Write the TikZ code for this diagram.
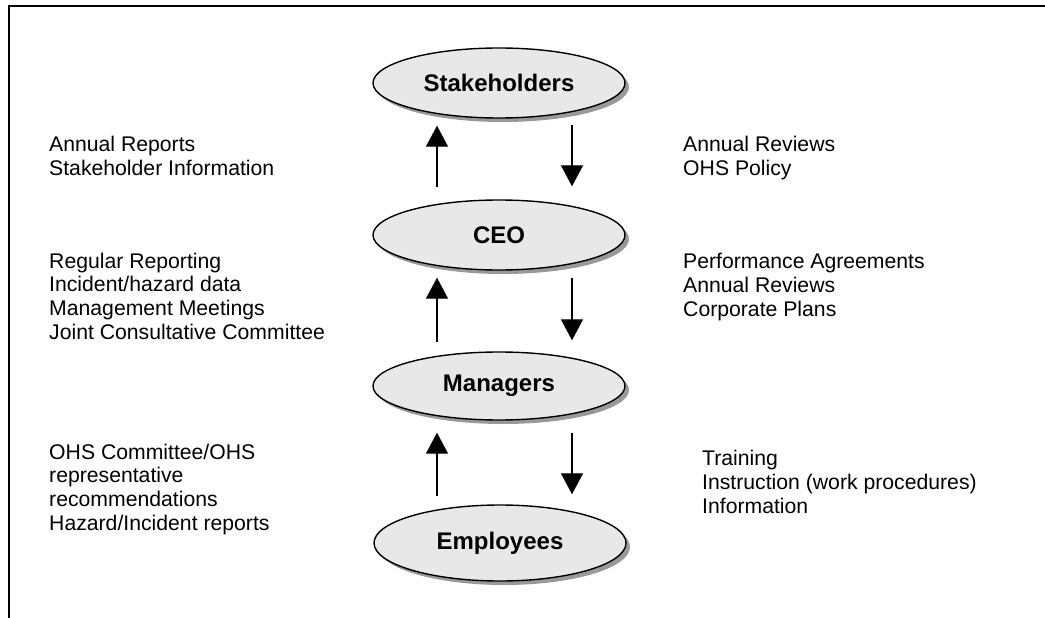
\documentclass[tikz,border=0pt]{standalone}
\usepackage{fontspec}
\setmainfont{Liberation Sans}
\usetikzlibrary{arrows.meta,shapes.geometric,calc}
\begin{document}
\begin{tikzpicture}[x=1pt,y=-1pt,
  level/.style={ellipse, draw=black, line width=1.4pt, fill=black!9,
    minimum width=252pt, minimum height=70pt, inner sep=0pt,
    font=\fontsize{24}{26}\selectfont\bfseries},
  shade/.style={ellipse, fill=black!40, draw=none,
    minimum width=252pt, minimum height=70pt, inner sep=0pt},
  flow/.style={line width=1.3pt, -{Triangle[width=22pt,length=21pt]}},
  note/.style={anchor=base west, inner sep=0pt,
    font=\fontsize{21.2}{23.6}\selectfont, align=left}]
\useasboundingbox (0,0) rectangle (1045,618);
% frame
\draw[line width=2pt] (9,618) -- (9,6) -- (1045,6);

% drop shadows
\node[shade] at (503,87) {};
\node[shade] at (503,239) {};
\node[shade, minimum height=68pt] at (503,390) {};
\node[shade, minimum height=76pt] at (504,547) {};

% levels
\node[level] (stk) at (499,83) {Stakeholders};
\node[level] (ceo) at (499,235) {CEO};
\node[level, minimum height=68pt] (mgr) at (499,386) {Managers};
\node[level, minimum height=76pt] (emp) at (500,543) {Employees};

% arrow end points
\coordinate (u1a) at ($(ceo.north)+(-62,-12)$);
\coordinate (u1b) at ($(stk.south)+(-62,7)$);
\coordinate (d1a) at ($(stk.south)+(73,6)$);
\coordinate (d1b) at ($(ceo.north)+(73,-13)$);
\coordinate (u2a) at ($(mgr.north)+(-62,-9)$);
\coordinate (u2b) at ($(ceo.south)+(-62,7)$);
\coordinate (d2a) at ($(ceo.south)+(73,7)$);
\coordinate (d2b) at ($(mgr.north)+(73,-11)$);
\coordinate (u3a) at ($(emp.north)+(-63,-8)$);
\coordinate (u3b) at ($(mgr.south)+(-62,12)$);
\coordinate (d3a) at ($(mgr.south)+(73,12)$);
\coordinate (d3b) at ($(emp.north)+(72,-10)$);

\draw[flow] (u1a) -- (u1b);
\draw[flow] (d1a) -- (d1b);
\draw[flow] (u2a) -- (u2b);
\draw[flow] (d2a) -- (d2b);
\draw[flow] (u3a) -- (u3b);
\draw[flow] (d3a) -- (d3b);

% information flows (anchored at the baseline of the last line)
\node[note] (l1) at (49,175) {Annual Reports\\Stakeholder Information};
\node[note] (r1) at (683,175) {Annual Reviews\\OHS Policy};
\node[note] (l2) at (49,339) {Regular Reporting\\Incident/hazard data\\Management Meetings\\Joint Consultative Committee};
\node[note] (r2) at (683,316) {Performance Agreements\\Annual Reviews\\Corporate Plans};
\node[note] (l3) at (49,530) {OHS Committee/OHS\\representative\\recommendations\\Hazard/Incident reports};
\node[note] (r3) at (702,513) {Training\\Instruction (work procedures)\\Information};
\end{tikzpicture}
\end{document}
